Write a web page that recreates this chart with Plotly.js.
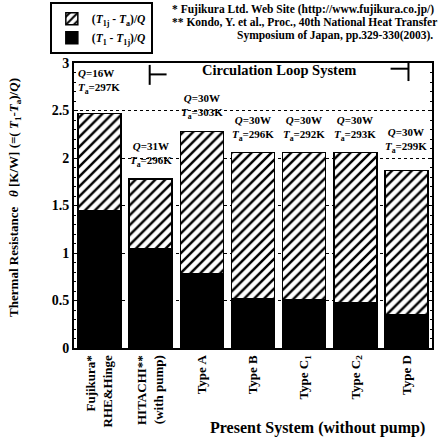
<!DOCTYPE html>
<html><head><meta charset="utf-8">
<script src="https://cdn.plot.ly/plotly-3.0.1.min.js"></script>
<style>body{margin:0;background:#fff}#c{width:441px;height:444px}</style>
</head><body><div id="c"></div>
<script>
const categories = ["Fujikura*<br>RHE&Hinge", "HITACHI**<br>(with pump)", "Type A", "Type B", "Type C<sub>1</sub>", "Type C<sub>2</sub>", "Type D"];
const lowerValues = [1.44, 1.04, 0.78, 0.52, 0.51, 0.48, 0.35];   // (T1 - T1j)/Q
const totalValues = [2.47, 1.78, 2.28, 2.06, 2.06, 2.06, 1.87];
const upperValues = totalValues.map((t, i) => +(t - lowerValues[i]).toFixed(3)); // (T1j - Ta)/Q
const heatQ = ["16W", "31W", "30W", "30W", "30W", "30W", "30W"];
const ambientT = ["297K", "296K", "303K", "296K", "292K", "293K", "299K"];
const yTicks = [0, 0.5, 1, 1.5, 2, 2.5, 3];
const yTickText = ["0", "0.5", "1", "1.5", "2", "2.5", "3"];

const F = "Liberation Serif, Times New Roman, serif";
const xs = categories.map((c, i) => i);

const traces = [
  {type: 'bar', x: xs, y: lowerValues, name: "(<i>T</i><sub>1</sub> - <i>T</i><sub>1j</sub>)/<i>Q</i>",
   marker: {color: '#000', line: {color: '#000', width: 1.5}}},
  {type: 'bar', x: xs, y: upperValues, name: "(<i>T</i><sub>1j</sub> - <i>T</i><sub>a</sub>)/<i>Q</i>",
   marker: {color: '#fff', line: {color: '#000', width: 1.5},
            pattern: {shape: '/', fgcolor: '#000', bgcolor: '#fff', size: 7, solidity: 0.35}}}
];

const ann = [];
// Q / Ta labels
const labelY = [2.98, 1.86, 2.37, 2.14, 2.14, 2.14, 2.01];
xs.forEach((x, i) => {
  ann.push({x: i === 0 ? -0.47 : x, y: labelY[i], xref: 'x', yref: 'y',
    xanchor: i === 0 ? 'left' : 'center', yanchor: i === 0 ? 'top' : 'bottom', showarrow: false, align: i === 0 ? 'left' : 'center',
    text: "<i>Q</i>=" + heatQ[i] + "<br><i>T</i><sub>a</sub>=" + ambientT[i],
    font: {family: F, size: 11, weight: 'bold', color: '#000'}});
});
ann.push({x: 3.5, y: 2.93, xref: 'x', yref: 'y', showarrow: false, xanchor: 'center', yanchor: 'middle',
  text: "Circulation Loop System", font: {family: F, size: 14.5, weight: 'bold', color: '#000'}});
ann.push({x: 0.68, y: -0.28, xref: 'paper', yref: 'paper', showarrow: false, xanchor: 'center', yanchor: 'middle',
  text: "Present System (without pump)", font: {family: F, size: 16, weight: 'bold', color: '#000'}});
ann.push({x: -0.165, y: 0.53, xref: 'paper', yref: 'paper', showarrow: false, xanchor: 'center', yanchor: 'middle',
  textangle: -90,
  text: "Thermal Resistance   <i>θ</i> [K/W] (=( <i>T</i><sub>1</sub>-<i>T</i><sub>a</sub>)/<i>Q</i>)",
  font: {family: F, size: 13, weight: 'bold', color: '#000'}});
const foot = ["* Fujikura Ltd. Web Site (http://www.fujikura.co.jp/)", "** Kondo, Y. et al., Proc., 40th National Heat Transfer", "Symposium of Japan, pp.329-330(2003)."];
const footX = [0.268, 0.268, 0.45];
const footY = [1.186, 1.144, 1.098];
foot.forEach((t, i) => ann.push({x: footX[i], y: footY[i], xref: 'paper', yref: 'paper', showarrow: false,
  xanchor: 'left', yanchor: 'middle', text: t, font: {family: F, size: 11.5, weight: 'bold', color: '#000'}}));

const shapes = [
  {type: 'line', xref: 'x', yref: 'y', x0: 0.98, x1: 0.98, y0: 2.77, y1: 2.98, line: {color: '#000', width: 2}},
  {type: 'line', xref: 'x', yref: 'y', x0: 0.98, x1: 1.31, y0: 2.88, y1: 2.88, line: {color: '#000', width: 2}},
  {type: 'line', xref: 'x', yref: 'y', x0: 6.04, x1: 6.04, y0: 2.81, y1: 3.0, line: {color: '#000', width: 2}},
  {type: 'line', xref: 'x', yref: 'y', x0: 5.69, x1: 6.04, y0: 2.94, y1: 2.94, line: {color: '#000', width: 2}}
];

const layout = {
  width: 441, height: 444,
  margin: {l: 74, r: 9, t: 63, b: 96, autoexpand: false},
  paper_bgcolor: '#fff', plot_bgcolor: '#fff',
  barmode: 'stack', bargap: 0.16,
  font: {family: F, color: '#000'},
  showlegend: true,
  legend: {xref: 'container', yref: 'container', x: 0.113, y: 0.995, xanchor: 'left', yanchor: 'top', traceorder: 'reversed',
    bordercolor: '#000', borderwidth: 2, bgcolor: '#fff',
    font: {family: F, size: 11.5, weight: 'bold'}, tracegroupgap: 0},
  xaxis: {tickvals: xs, ticktext: categories, tickangle: -90, range: [-0.5, 6.5],
    showline: true, linecolor: '#000', linewidth: 2, mirror: true, ticks: '', showgrid: false,
    tickfont: {family: F, size: 13, weight: 'bold', color: '#000'}},
  yaxis: {range: [0, 3], tickvals: yTicks, ticktext: yTickText, showline: true, linecolor: '#000', linewidth: 2,
    mirror: 'ticks', ticks: 'inside', ticklen: 4, tickcolor: '#000',
    minor: {dtick: 0.1, ticks: 'inside', ticklen: 2, tickcolor: '#000', showgrid: false},
    showgrid: true, gridcolor: '#000', griddash: 'dot', gridwidth: 1, zeroline: false,
    tickfont: {family: F, size: 14, weight: 'bold', color: '#000'}},
  annotations: ann, shapes: shapes
};
Plotly.newPlot('c', traces, layout, {displayModeBar: false, staticPlot: true});
</script></body></html>
